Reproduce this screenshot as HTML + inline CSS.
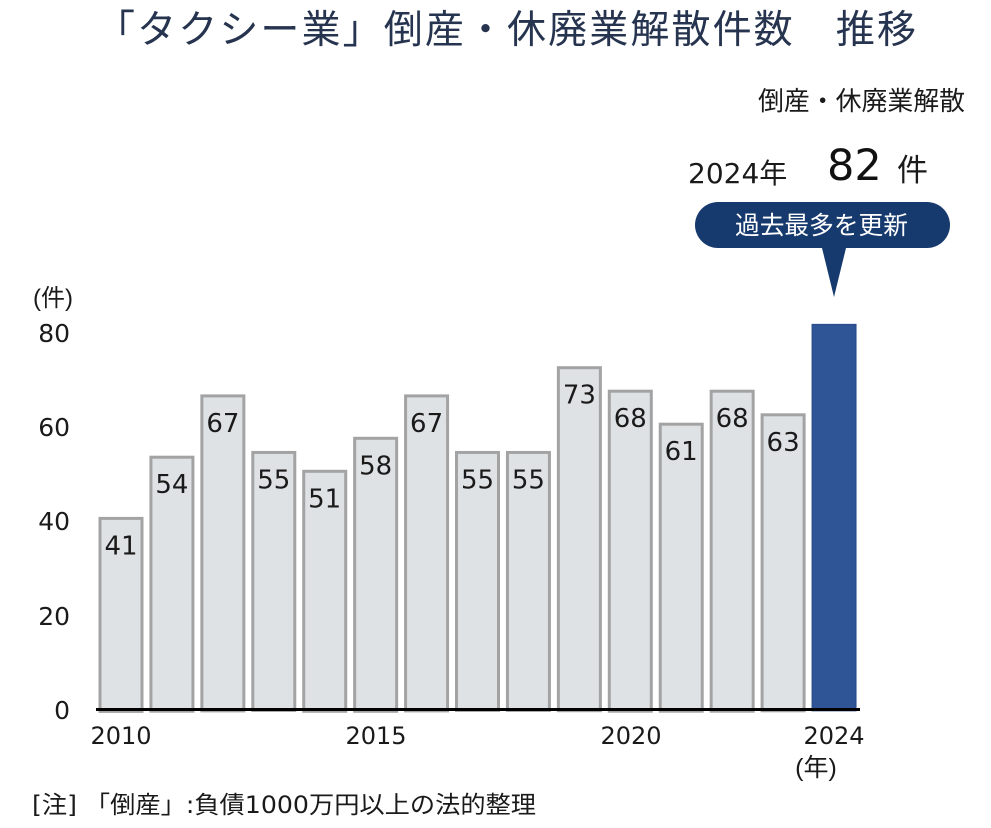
<!DOCTYPE html>
<html>
<head>
<meta charset="utf-8">
<style>
  html,body{margin:0;padding:0;background:#fff;}
  svg{display:block;}
  .cjk{font-family:"Liberation Sans","Noto Sans CJK JP",sans-serif;}
  .num{font-family:"DejaVu Sans","Noto Sans CJK JP",sans-serif;}
</style>
</head>
<body>
<svg width="991" height="828" viewBox="0 0 991 828" xmlns="http://www.w3.org/2000/svg">
  <rect x="0" y="0" width="991" height="828" fill="#ffffff"/>

  <!-- Title -->
  <text x="96" y="43" class="cjk" font-size="39" fill="#26344f" textLength="820" lengthAdjust="spacing">「タクシー業」倒産・休廃業解散件数　推移</text>

  <!-- Header right -->
  <text x="758" y="110" class="cjk" font-size="26" fill="#1a1a1a" textLength="207" lengthAdjust="spacingAndGlyphs">倒産・休廃業解散</text>
  <text x="688" y="183" class="num" font-size="28" fill="#1a1a1a">2024<tspan font-family="Noto Sans CJK JP, sans-serif" font-size="28">年</tspan></text>
  <text x="827" y="180" class="num" font-size="43" fill="#111">82</text>
  <text x="897" y="181" font-family="Noto Sans CJK JP, sans-serif" font-size="31" fill="#1a1a1a">件</text>

  <!-- Callout -->
  <rect x="695" y="202" width="255" height="46" rx="23" ry="23" fill="#173a6e"/>
  <text x="735" y="234" font-family="Noto Sans CJK JP, sans-serif" font-size="25" fill="#ffffff" textLength="173" lengthAdjust="spacingAndGlyphs">過去最多を更新</text>
  <polygon points="822,248 846,248 834,297" fill="#173a6e"/>

  <!-- Y axis unit -->
  <text x="33" y="306" class="cjk" font-size="24" fill="#1a1a1a">(件)</text>

  <!-- Y tick labels -->
  <g class="num" font-size="25" fill="#1a1a1a" text-anchor="end">
    <text x="70" y="342">80</text>
    <text x="70" y="436">60</text>
    <text x="70" y="530">40</text>
    <text x="70" y="625">20</text>
    <text x="70" y="719">0</text>
  </g>

  <!-- Gray bars -->
  <g fill="#dee2e5" stroke="#a3a3a3" stroke-width="3">
    <rect x="100" y="518.4" width="42" height="193"/>
    <rect x="150.93" y="457.2" width="42" height="254"/>
    <rect x="201.86" y="395.9" width="42" height="315"/>
    <rect x="252.79" y="452.45" width="42" height="258"/>
    <rect x="303.72" y="471.3" width="42" height="240"/>
    <rect x="354.65" y="438.3" width="42" height="273"/>
    <rect x="405.58" y="395.9" width="42" height="315"/>
    <rect x="456.51" y="452.45" width="42" height="258"/>
    <rect x="507.44" y="452.45" width="42" height="258"/>
    <rect x="558.37" y="367.7" width="42" height="343"/>
    <rect x="609.3" y="391.2" width="42" height="320"/>
    <rect x="660.23" y="424.2" width="42" height="287"/>
    <rect x="711.16" y="391.2" width="42" height="320"/>
    <rect x="762.09" y="414.8" width="42" height="296"/>
  </g>

  <!-- 2024 bar -->
  <rect x="812.3" y="324.6" width="43.5" height="386" fill="#2f5597" stroke="#2a4f8c" stroke-width="1.5"/>

  <!-- Value labels -->
  <g class="num" font-size="26" fill="#1a1a1a" text-anchor="middle">
    <text x="121.0" y="554.4">41</text>
    <text x="171.9" y="493.2">54</text>
    <text x="222.9" y="431.9">67</text>
    <text x="273.8" y="488.4">55</text>
    <text x="324.7" y="507.3">51</text>
    <text x="375.7" y="474.3">58</text>
    <text x="426.6" y="431.9">67</text>
    <text x="477.5" y="488.4">55</text>
    <text x="528.4" y="488.4">55</text>
    <text x="579.4" y="403.7">73</text>
    <text x="630.3" y="427.2">68</text>
    <text x="681.2" y="460.2">61</text>
    <text x="732.2" y="427.2">68</text>
    <text x="783.1" y="450.8">63</text>
  </g>

  <!-- X axis -->
  <line x1="96" y1="709.5" x2="860" y2="709.5" stroke="#000" stroke-width="3"/>

  <!-- X labels -->
  <g class="num" font-size="24" fill="#1a1a1a" text-anchor="middle">
    <text x="121" y="744">2010</text>
    <text x="376" y="744">2015</text>
    <text x="631" y="744">2020</text>
    <text x="834" y="744">2024</text>
  </g>
  <text x="816" y="776" class="cjk" font-size="25" fill="#1a1a1a" text-anchor="middle">(年)</text>

  <!-- Footnote -->
  <text x="32" y="813" class="num" font-size="24" fill="#1a1a1a" textLength="504" lengthAdjust="spacingAndGlyphs">[注] 「倒産」:負債1000万円以上の法的整理</text>
</svg>
</body>
</html>
